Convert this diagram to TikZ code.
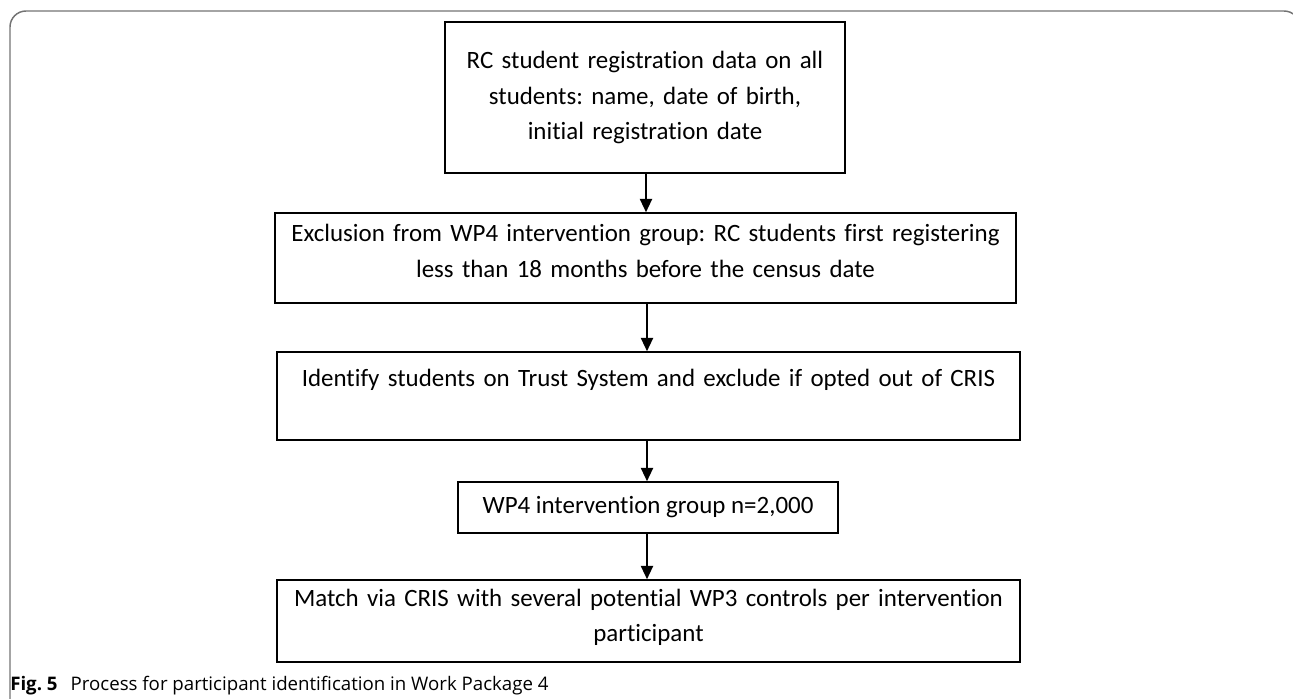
\documentclass[tikz,border=0pt]{standalone}
\usepackage{fontspec}
\setmainfont[Ligatures=NoCommon]{Carlito}
\newfontfamily\capfont{Open Sans}
\frenchspacing
\usetikzlibrary{arrows.meta}

\begin{document}
\begin{tikzpicture}[x=0.75pt,y=-0.75pt,
  procbox/.style={draw,line width=1.1pt,align=center,inner sep=0pt,
    font=\fontsize{18.7}{26.5}\selectfont},
  flow/.style={line width=1.5pt,-{Triangle[length=10pt,width=9pt]}}]
  \clip (0,0) rectangle (1293,699);
  \draw[gray!90!black,line width=1.1pt,rounded corners=12] (10,720) |- (1300,11) -- (1300,720);
  \path (645,97.5) node[procbox,minimum width=300pt,minimum height=113.25pt,text width=285pt] (reg)
    {RC student registration data on all\\students: name, date of birth,\\initial registration date};
  \path (645.5,258) node[procbox,minimum width=555.75pt,minimum height=67.5pt,text width=545pt] (excl)
    {Exclusion from WP4 intervention group: RC students first registering\\less than 18 months before the census date\\[-16pt]\mbox{}};
  \path (648.5,396) node[procbox,minimum width=557.25pt,minimum height=66pt,text width=545pt] (trust)
    {Identify students on Trust System and exclude if opted out of CRIS\\ \mbox{}};
  \path (648,507.5) node[procbox,minimum width=285pt,minimum height=38.25pt] (grp)
    {WP4 intervention group n=2,000};
  \path (648.5,621) node[procbox,minimum width=557.25pt,minimum height=61.5pt,text width=545pt] (match)
    {Match via CRIS with several potential WP3 controls per intervention\\participant\\[-18pt]\mbox{}};
  \draw[flow] (reg.south-|646,0) -- (excl.north-|646,0);
  \draw[flow] (excl.south-|647,0) -- (trust.north-|647,0);
  \draw[flow] (trust.south-|647,0) -- (grp.north-|647,0);
  \draw[flow] (grp.south-|647,0) -- (match.north-|647,0);
  \path (10,686) node[anchor=west,inner sep=0pt,font=\capfont\fontsize{14}{16}\selectfont] (cap)
    {\textbf{Fig. 5}\hspace{0.7em}Process for participant identification in Work Package 4};
\end{tikzpicture}
\end{document}
